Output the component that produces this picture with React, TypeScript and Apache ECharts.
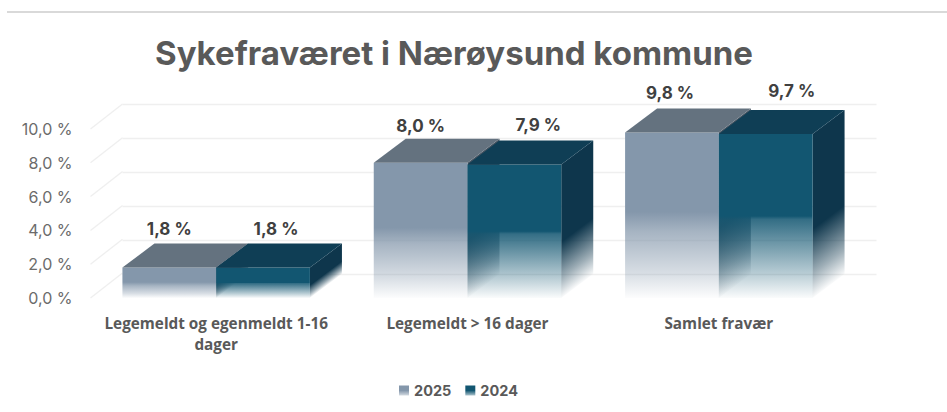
import React, { useEffect, useRef } from "react";
import * as echarts from "echarts";

const categories = ["Legemeldt og egenmeldt 1-16\ndager", "Legemeldt > 16 dager", "Samlet fravær"];
const values2025 = [1.8, 8.0, 9.8];
const values2024 = [1.8, 7.9, 9.7];
const ticks = [0, 2, 4, 6, 8, 10];
const seriesNames = ["2025", "2024"];

const DX = 32;
const DY = 24;
const BAR_RATIO = 0.373;
const FONT = "Inter, 'Open Sans', sans-serif";
const palette = [
  { front: "132,151,171", top: "#64727f", side: "70,84,98" },
  { front: "18,86,113", top: "#0f3e55", side: "14,54,76" },
];
// hand-placed data labels of the original, as [dx, dy] from the default place
const labelNudge = [
  [[0, 0], [0, 2], [-2, 0]],
  [[13, 0], [24, 0], [26, -4]],
];

const fadeFront = (s: number, rgb: string, x: number, y: number, x2: number, y2: number) =>
  new echarts.graphic.LinearGradient(
    x, y, x2, y2,
    s === 0
      ? [
          { offset: 0, color: `rgba(${rgb},1)` },
          { offset: 0.48, color: `rgba(${rgb},1)` },
          { offset: 0.6, color: `rgba(${rgb},0.72)` },
          { offset: 0.85, color: `rgba(${rgb},0.32)` },
          { offset: 1, color: `rgba(${rgb},0.02)` },
        ]
      : [
          { offset: 0, color: `rgba(${rgb},1)` },
          { offset: 0.5, color: `rgba(${rgb},1)` },
          { offset: 0.52, color: `rgba(${rgb},0.86)` },
          { offset: 0.85, color: `rgba(${rgb},0.3)` },
          { offset: 1, color: `rgba(${rgb},0.02)` },
        ],
    true
  );

const fadeSide = (rgb: string, x: number, y: number, x2: number, y2: number) =>
  new echarts.graphic.LinearGradient(
    x, y, x2, y2,
    [
      { offset: 0, color: `rgba(${rgb},1)` },
      { offset: 0.58, color: `rgba(${rgb},1)` },
      { offset: 0.85, color: `rgba(${rgb},0.4)` },
      { offset: 1, color: `rgba(${rgb},0.02)` },
    ],
    true
  );

const legendGrad = (rgb: string) =>
  new echarts.graphic.LinearGradient(0, 0, 0, 1, [
    { offset: 0, color: `rgba(${rgb},1)` },
    { offset: 0.5, color: `rgba(${rgb},1)` },
    { offset: 1, color: `rgba(${rgb},0.35)` },
  ]);

const barItem = (s: number) => (params: any, api: any) => {
  const cat = api.value(0);
  const val = api.value(1);
  const [cx, yTop] = api.coord([cat, val]);
  const [, yBot] = api.coord([cat, 0]);
  const w = api.size([1, 0])[0] * BAR_RATIO;
  const x0 = cx + (s - 1) * w;
  const x1 = x0 + w;
  const h = yBot - yTop;
  const c = palette[s];
  const n = labelNudge[s][cat];
  // the side face is sheared, so its gradient runs across the shear direction
  const nx = DY / Math.hypot(DX, DY);
  const ny = DX / Math.hypot(DX, DY);
  const L = h * ny;
  return {
    type: "group",
    children: [
      {
        type: "polygon",
        shape: { points: [[x1, yTop], [x1 + DX, yTop - DY], [x1 + DX, yBot - DY], [x1, yBot]] },
        style: { fill: fadeSide(c.side, x1, yTop, x1 + L * nx, yTop + L * ny) },
      },
      {
        type: "rect",
        shape: { x: x0, y: yTop, width: w, height: h },
        style: { fill: fadeFront(s, c.front, x0, yTop, x0, yBot) },
      },
      {
        type: "polygon",
        shape: { points: [[x0, yTop], [x0 + DX, yTop - DY], [x1 + DX, yTop - DY], [x1, yTop]] },
        style: { fill: c.top },
      },
      {
        type: "text",
        style: {
          text: val.toFixed(1).replace(".", ",") + " %",
          x: (x0 + x1) / 2 + n[0],
          y: yTop - 39 + n[1],
          align: "center",
          verticalAlign: "middle",
          fontFamily: FONT,
          fontWeight: 700,
          fontSize: 17,
          fill: "#404040",
        },
      },
    ],
  };
};

const diagItem = (params: any, api: any) => {
  const t = api.value(0);
  const [cx, y] = api.coord([0, t]);
  const x = cx - api.size([1, 0])[0] / 2;
  return {
    type: "line",
    shape: { x1: x, y1: y, x2: x + DX, y2: y - DY - 1 },
    style: { stroke: "#efefef", lineWidth: 1.3 },
  };
};

export default function App() {
  const ref = useRef<HTMLDivElement>(null);
  useEffect(() => {
    const chart = echarts.init(ref.current!, null, { renderer: "svg" });
    chart.setOption({
      animation: false,
      backgroundColor: "#ffffff",
      title: {
        text: "Sykefraværet i Nærøysund kommune",
        left: 449,
        top: 31,
        textAlign: "center",
        textStyle: { fontFamily: FONT, fontWeight: 700, fontSize: 33, color: "#595959" },
      },
      graphic: [
        {
          type: "rect",
          shape: { x: 7, y: 11, width: 940, height: 2 },
          style: { fill: "#d9d9d9" },
        },
      ],
      legend: {
        left: 394,
        top: 378,
        itemWidth: 10,
        itemHeight: 10,
        itemGap: 14,
        selectedMode: false,
        textStyle: { fontFamily: FONT, fontWeight: 700, fontSize: 14.5, color: "#595959" },
        data: seriesNames.map((name, i) => ({
          name,
          icon: "rect",
          itemStyle: { color: legendGrad(palette[i].front) },
        })),
      },
      grid: [
        { left: 90.5, right: 102.5, top: 129, bottom: 114 },
        { left: 122.5, right: 70.5, top: 104, bottom: 138 },
      ],
      xAxis: [
        {
          type: "category",
          gridIndex: 0,
          data: categories,
          axisLine: { show: false },
          axisTick: { show: false },
          axisLabel: {
            margin: 14,
            interval: 0,
            fontFamily: "'Open Sans', sans-serif",
            fontWeight: 700,
            fontSize: 15.3,
            color: "#595959",
            lineHeight: 21,
          },
        },
        { type: "category", gridIndex: 1, data: categories, show: false },
      ],
      yAxis: [
        {
          type: "value",
          gridIndex: 0,
          min: 0,
          max: 10,
          interval: 2,
          axisLine: { show: false },
          axisTick: { show: false },
          splitLine: { show: false },
          axisLabel: {
            margin: 18,
            fontFamily: FONT,
            fontSize: 16,
            color: "#6b6b6b",
            formatter: (v: number) => v.toFixed(1).replace(".", ",") + " %",
          },
        },
        {
          type: "value",
          gridIndex: 1,
          min: 0,
          max: 10,
          interval: 2,
          axisLine: { show: false },
          axisTick: { show: false },
          axisLabel: { show: false },
          splitLine: { show: true, lineStyle: { color: "#efefef", width: 1.3 } },
        },
      ],
      series: [
        {
          type: "custom",
          name: "ticks",
          xAxisIndex: 0,
          yAxisIndex: 0,
          silent: true,
          encode: { y: 0 },
          data: ticks.map((t) => [t]),
          renderItem: diagItem,
          z: 1,
        },
        ...seriesNames.map((name, s) => ({
          type: "custom",
          name,
          xAxisIndex: 0,
          yAxisIndex: 0,
          encode: { x: 0, y: 1 },
          data: (s === 0 ? values2025 : values2024).map((v, i) => [i, v]),
          renderItem: barItem(s),
          z: 2 + s,
        })),
      ],
    });
    return () => chart.dispose();
  }, []);
  return <div ref={ref} style={{ position: "fixed", left: 0, top: 0, width: 947, height: 412 }} />;
}
